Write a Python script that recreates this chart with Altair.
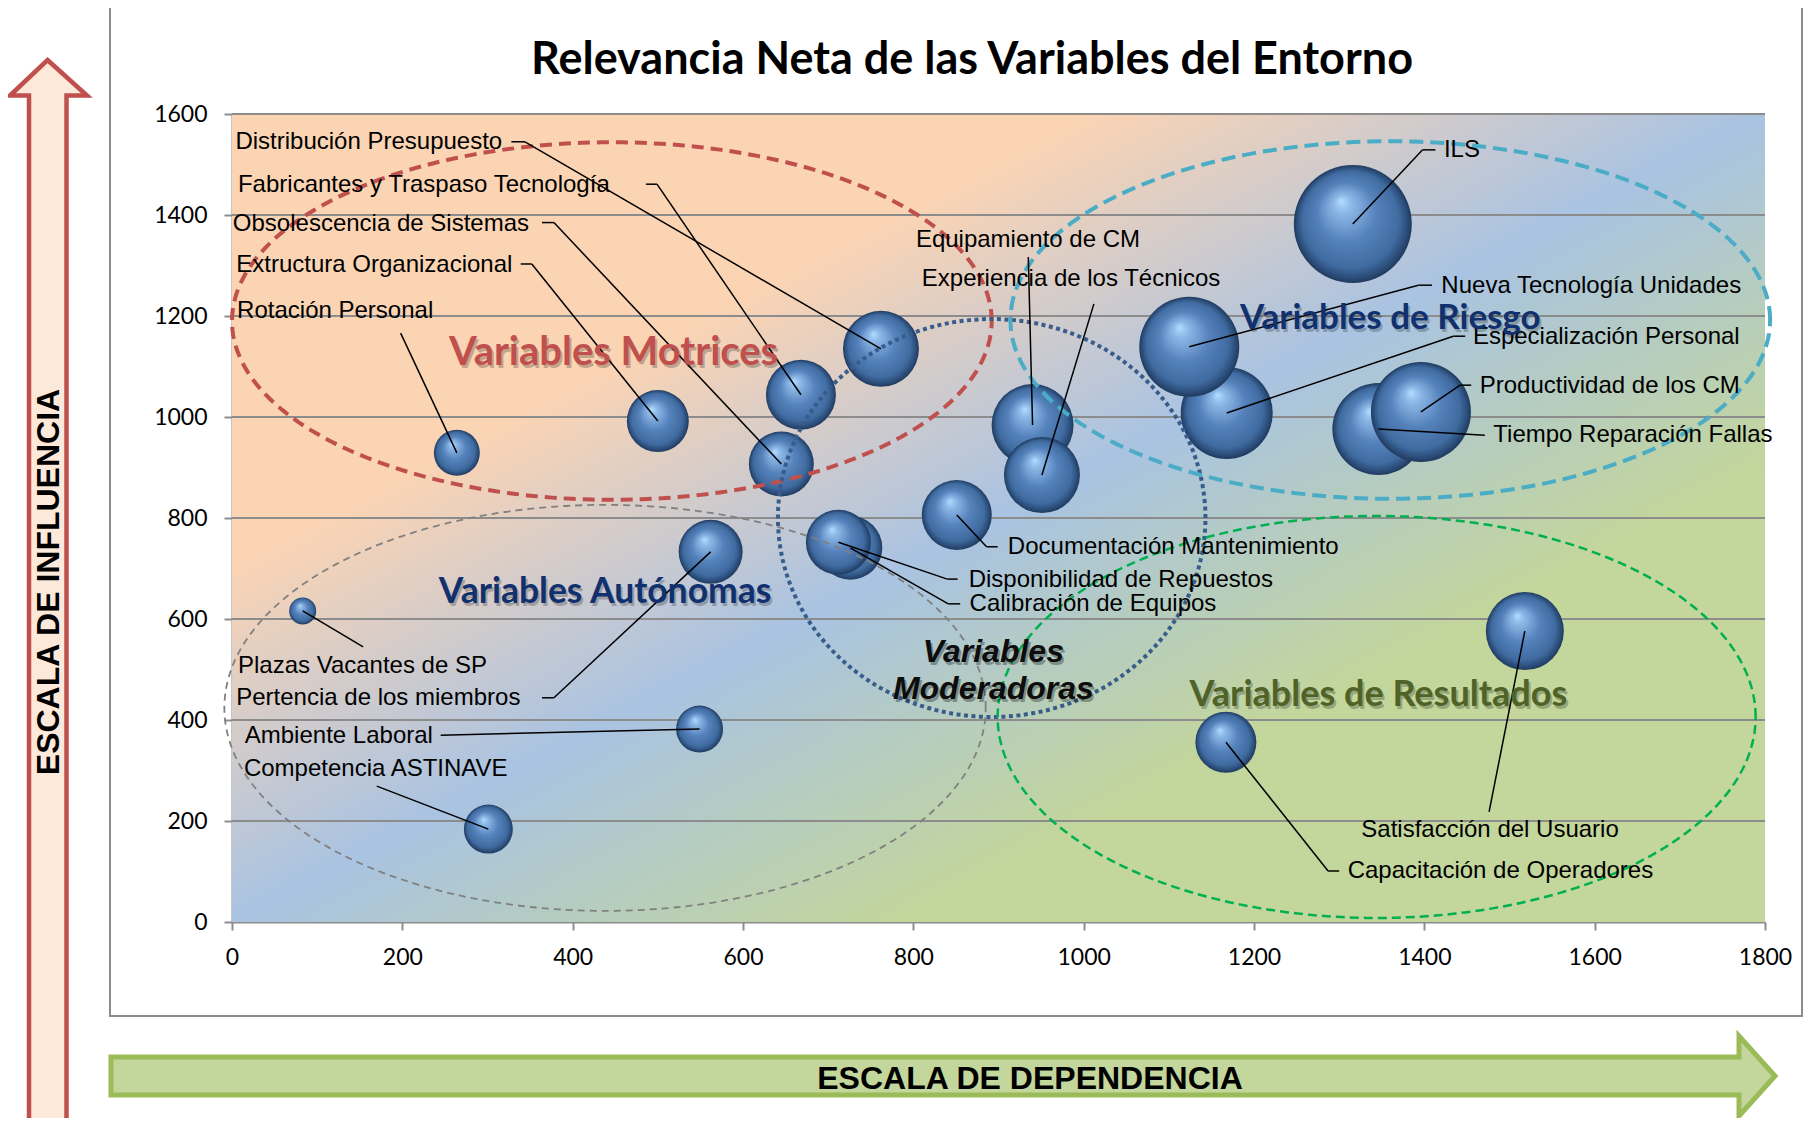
import altair as alt
import numpy as np
import pandas as pd

# ------------------------------------------------------------------ data
variables = [
    "Rotación Personal", "Extructura Organizacional", "Obsolescencia de Sistemas",
    "Fabricantes y Traspaso Tecnología", "Distribución Presupuesto", "Equipamiento de CM",
    "Experiencia de los Técnicos", "Documentación Mantenimiento", "Calibración de Equipos",
    "Disponibilidad de Repuestos", "Pertencia de los miembros", "Plazas Vacantes de SP",
    "Ambiente Laboral", "Competencia ASTINAVE", "ILS", "Especialización Personal",
    "Nueva Tecnología Unidades", "Tiempo Reparación Fallas", "Productividad de los CM",
    "Capacitación de Operadores", "Satisfacción del Usuario",
]
dependencia = [264, 500, 645, 668, 762, 940, 951, 851, 726, 712, 562, 83, 549, 301,
               1316, 1168, 1124, 1346, 1396, 1167, 1518]
influencia = [929, 992, 907, 1044, 1135, 984, 885, 806, 741, 752, 733, 616, 382, 184,
              1382, 1008, 1139, 976, 1010, 356, 576]
tamano = [529, 961, 1056, 1225, 1444, 1681, 1444, 1225, 1024, 1056, 1024, 182, 552, 600,
          3481, 2116, 2500, 2116, 2500, 930, 1521]

# data-label placement (axis units)
etiqueta_x = [6, 5, 1, 7, 4, 803, 810, 911, 866, 865, 5, 7, 15, 14,
              1423, 1457, 1420, 1481, 1465, 1310, 1326]
etiqueta_y = [1210, 1301, 1383, 1460, 1545, 1350, 1273, 743, 630, 678, 444, 507, 368, 303,
              1529, 1159, 1260, 964, 1062, 101, 182]
codo_x = [198, 352, 378, 499, 344, 935, 1012, 886, 841, 840, 378, 154, 245, 170,
          1398, 1434, 1393, 1471, 1442, 1287, 1476]
codo_y = [1166, 1303, 1385, 1461, 1545, 1317, 1224, 743, 630, 679, 444, 545, 370, 269,
          1529, 1160, 1261, 964, 1063, 101, 218]
marca_x = [None, 339, 364, 486, 328, None, None, 899, 855, 852, 364, None, None, None,
           1413, 1448, 1409, None, 1455, 1300, None]

# variable groups
grupos = ["Variables Motrices", "Variables Autónomas", "Variables Moderadoras",
          "Variables de Riesgo", "Variables de  Resultados"]
grupo_cx = [446, 438, 892, 1360, 1344]
grupo_cy = [1190, 424, 800, 1192, 406]
grupo_rx = [446, 447, 251, 446, 445]
grupo_ry = [354, 402, 394, 354, 398]
grupo_tx = [448, 438, 894, 1360, 1346]
grupo_ty = [1127, 653, 535, 1196, 449]

x_ticks = list(range(0, 1801, 200))
y_ticks = list(range(0, 1601, 200))

titulo = "Relevancia Neta de las Variables del Entorno"
eje_y_titulo = "ESCALA DE INFLUENCIA"
eje_x_titulo = "ESCALA DE DEPENDENCIA"

# ------------------------------------------------------------------ styles
grupo_color = ["#C0504D", "#808080", "#385D8A", "#4BACC6", "#00B050"]
grupo_ancho = [4, 1.8, 4, 4, 2.5]
grupo_dash = [[12, 7], [7, 5], [4, 3.5], [14, 7], [9, 5]]
texto_color = ["#C0504D", "#10306E", "#0D0D0D", "#10306E", "#4F6228"]
texto_tam = [40, 35.5, 32, 35, 36]

W, H = 1533, 808
xs = alt.Scale(domain=[0, 1800], nice=False, zero=False)
ys = alt.Scale(domain=[0, 1600], nice=False, zero=False)
x_axis = alt.Axis(values=x_ticks, grid=False, title=None, labelPadding=16, format="d",
                  labelFlush=False)
y_axis = alt.Axis(values=y_ticks, grid=False, title=None, labelPadding=17, format="d",
                  labelFlush=False)


def X(f):
    return alt.X(f, type="quantitative", scale=xs, axis=x_axis)


def Y(f):
    return alt.Y(f, type="quantitative", scale=ys, axis=y_axis)


esfera = alt.RadialGradient(
    gradient="radial", x1=0.4, y1=0.3, r1=0.0, x2=0.5, y2=0.5, r2=0.5,
    stops=[
        alt.GradientStop(offset=0.0, color="#B3DCFF"),
        alt.GradientStop(offset=0.15, color="#8DB9E8"),
        alt.GradientStop(offset=0.5, color="#5682BC"),
        alt.GradientStop(offset=0.82, color="#3F6BA0"),
        alt.GradientStop(offset=0.94, color="#2B4C78"),
        alt.GradientStop(offset=1.0, color="#1F3A5E"),
    ],
)
fondo = alt.LinearGradient(
    gradient="linear", x1=0, y1=0, x2=1, y2=1,
    stops=[
        alt.GradientStop(offset=0.0, color="#FBD4B4"),
        alt.GradientStop(offset=0.28, color="#FBD4B4"),
        alt.GradientStop(offset=0.5, color="#A9C3E2"),
        alt.GradientStop(offset=0.72, color="#C3D69B"),
        alt.GradientStop(offset=1.0, color="#C3D69B"),
    ],
)

uno = pd.DataFrame({"a": [0]})

# ------------------------------------------------------------------ layers
area = alt.Chart(uno).mark_rect(fill=fondo, strokeWidth=0).encode(
    x=alt.value(0), x2=alt.value(W), y=alt.value(0), y2=alt.value(H))

rejilla = alt.Chart(pd.DataFrame({"y": y_ticks[1:]})).mark_rule(
    color="#8C8C8C", strokeWidth=2).encode(y=Y("y"))

burbujas_df = pd.DataFrame({"variable": variables, "x": dependencia,
                            "y": influencia, "tamano": tamano})
# Vega circle symbol: diameter = sqrt(size)
burbujas = alt.Chart(burbujas_df).mark_circle(fill=esfera, opacity=1, strokeWidth=0).encode(
    x=X("x"), y=Y("y"),
    size=alt.Size("tamano:Q", scale=alt.Scale(domain=[0, 3481], range=[0, 4 * 3481]),
                  legend=None),
    tooltip=["variable:N"],
)

elipses = []
ang = np.linspace(0, 2 * np.pi, 241)
for i in range(len(grupos)):
    e = pd.DataFrame({"i": np.arange(len(ang)),
                      "x": grupo_cx[i] + grupo_rx[i] * np.cos(ang),
                      "y": grupo_cy[i] + grupo_ry[i] * np.sin(ang)})
    elipses.append(
        alt.Chart(e).mark_line(color=grupo_color[i], strokeWidth=grupo_ancho[i],
                               strokeDash=grupo_dash[i], strokeCap="butt").encode(
            x=X("x"), y=Y("y"), order="i:Q")
    )

seg = []
for i in range(len(variables)):
    if marca_x[i] is not None:
        seg.append({"x": marca_x[i], "y": codo_y[i], "x2": codo_x[i], "y2": codo_y[i]})
    seg.append({"x": codo_x[i], "y": codo_y[i], "x2": dependencia[i], "y2": influencia[i]})
lineas = alt.Chart(pd.DataFrame(seg)).mark_rule(color="#000000", strokeWidth=1.5).encode(
    x=X("x"), y=Y("y"), x2="x2:Q", y2="y2:Q")

etq_df = pd.DataFrame({"t": variables, "x": etiqueta_x, "y": etiqueta_y})
etiquetas = alt.Chart(etq_df).mark_text(
    align="left", baseline="middle", font="Liberation Sans", fontSize=24, color="#000000"
).encode(x=X("x"), y=Y("y"), text="t:N")

g_df = pd.DataFrame({"t": grupos, "x": grupo_tx, "y": grupo_ty, "c": texto_color,
                     "s": texto_tam})
g_main = g_df[g_df.t != "Variables Moderadoras"]
g_sombra = alt.Chart(g_main).mark_text(
    align="center", baseline="middle", font="Lato", fontWeight="bold",
    color="#000000", opacity=0.22, dx=2, dy=3
).encode(x=X("x"), y=Y("y"), text="t:N", size=alt.Size("s:Q", scale=None))
g_texto = alt.Chart(g_main).mark_text(
    align="center", baseline="middle", font="Lato", fontWeight="bold"
).encode(x=X("x"), y=Y("y"), text="t:N", color=alt.Color("c:N", scale=None),
         size=alt.Size("s:Q", scale=None))

mod_df = g_df[g_df.t == "Variables Moderadoras"]
mod_sombra = alt.Chart(mod_df).mark_text(
    text=["Variables", "Moderadoras"], align="center", baseline="middle",
    font="Liberation Sans", fontWeight="bold", fontStyle="italic", fontSize=32,
    lineHeight=37, color="#000000", opacity=0.3, dx=2, dy=3
).encode(x=X("x"), y=Y("y"))
mod_texto = alt.Chart(mod_df).mark_text(
    text=["Variables", "Moderadoras"], align="center", baseline="middle",
    font="Liberation Sans", fontWeight="bold", fontStyle="italic", fontSize=32,
    lineHeight=37, color="#0D0D0D"
).encode(x=X("x"), y=Y("y"))

# ------------------------------------------------------------------ decorations (pixel space)
marco = alt.Chart(uno).mark_rect(fill=None, stroke="#8C8C8C", strokeWidth=2).encode(
    x=alt.value(-122), x2=alt.value(1570), y=alt.value(-108), y2=alt.value(902))

flecha_arriba = ("M-184.5,-54 L-145,-18.5 L-165.5,-18.5 L-165.5,1030 L-203,1030 "
                 "L-203,-18.5 L-222,-18.5 Z")
flecha_der = "M-121,943 L1507,943 L1507,922 L1543,962 L1507,1002 L1507,981 L-121,981 Z"
f1 = alt.Chart(uno).mark_point(shape=flecha_arriba, size=4, filled=True, fill="#FDE9D9",
                               stroke="#C0504D", strokeWidth=4.5, opacity=1).encode(
    x=alt.value(0), y=alt.value(0))
f2 = alt.Chart(uno).mark_point(shape=flecha_der, size=4, filled=True, fill="#C3D69B",
                               stroke="#9BBB59", strokeWidth=5, opacity=1).encode(
    x=alt.value(0), y=alt.value(0))

t_titulo = alt.Chart(uno).mark_text(
    text=titulo, align="center", baseline="middle", font="Lato", fontWeight="bold",
    fontSize=45, color="#000000").encode(x=alt.value(740), y=alt.value(-54))
t_y = alt.Chart(uno).mark_text(
    text=eje_y_titulo, align="center", baseline="middle", angle=270,
    font="Liberation Sans", fontWeight="bold", fontSize=32,
    color="#000000").encode(x=alt.value(-183.5), y=alt.value(468))
t_x = alt.Chart(uno).mark_text(
    text=eje_x_titulo, align="center", baseline="middle",
    font="Liberation Sans", fontWeight="bold", fontSize=32,
    color="#000000").encode(x=alt.value(798), y=alt.value(965))

chart = alt.layer(
    area, rejilla, marco, f1, f2, t_titulo, t_y, t_x,
    burbujas, *elipses, lineas, etiquetas, g_sombra, g_texto, mod_sombra, mod_texto,
).properties(
    width=W, height=H,
    padding={"left": 224, "top": 106, "right": 39, "bottom": 196},
    autosize=alt.AutoSizeParams(type="none"),
    background="white",
).configure_view(
    stroke=None
).configure_axis(
    labelFont="Lato", labelFontSize=23, labelColor="#000000",
    domainColor="#8C8C8C", domainWidth=2, tickColor="#8C8C8C", tickWidth=2, tickSize=8,
)

chart.save("out.html", embed_options={"renderer": "svg", "actions": False})
